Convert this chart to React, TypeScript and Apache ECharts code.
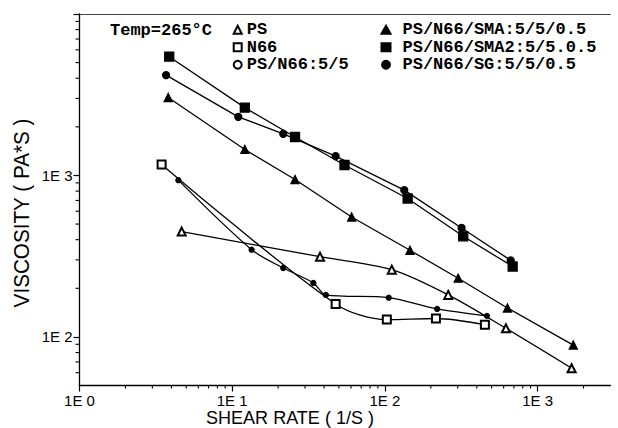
import { useEffect, useRef } from 'react';
import * as echarts from 'echarts';

// ---- data (shear rate 1/s, viscosity Pa*s) ----
const psShear = [4.67, 37.6, 111, 260, 621, 1671];
const psVisc = [449, 314, 261, 182, 113, 64];

const n66Shear = [3.45, 47.6, 103, 216, 452];
const n66Visc = [1170, 160, 128, 130, 119];

const blendShear = [4.44, 13.4, 21.6, 34.0, 41.1, 106, 220, 466];
const blendVisc = [935, 347, 267, 216, 182, 175, 149, 135];

const smaShear = [3.81, 12.1, 25.8, 60.6, 146, 302, 635, 1714];
const smaVisc = [3040, 1449, 944, 553, 344, 231, 151, 89];

const sma2Shear = [3.87, 12.1, 25.8, 54.4, 141, 326, 687];
const sma2Visc = [5440, 2630, 1730, 1161, 720, 420, 273];

const sgShear = [3.69, 10.96, 21.6, 47.6, 134, 318, 667];
const sgVisc = [4180, 2307, 1811, 1318, 811, 473, 298];

const seriesNames = [
  'PS',
  'N66',
  'PS/N66:5/5',
  'PS/N66/SMA:5/5/0.5',
  'PS/N66/SMA2:5/5.0.5',
  'PS/N66/SG:5/5/0.5',
];

const X_MIN = 1;
const X_MAX = 3000;
const Y_MIN = 50;
const Y_MAX = 10000;

const xMinorTicks = [2, 3, 4, 5, 6, 7, 8, 9, 20, 30, 40, 50, 60, 70, 80, 90, 200, 300, 400, 500, 600, 700, 800, 900, 2000];
const yMinorTicks = [60, 70, 80, 90, 200, 300, 400, 500, 600, 700, 800, 900, 2000, 3000, 4000, 5000, 6000, 7000, 8000, 9000];

const zip = (xs: number[], ys: number[]) => xs.map((x, i) => [x, ys[i]]);

const SANS = "'Liberation Sans', 'DejaVu Sans', sans-serif";
const MONO = "'Liberation Mono', 'DejaVu Sans Mono', monospace";

const powerExp = (v: number): number | null => {
  const l = Math.log10(v);
  const r = Math.round(l);
  return Math.abs(l - r) < 1e-6 ? r : null;
};

export default function App() {
  const ref = useRef<HTMLDivElement>(null);

  useEffect(() => {
    document.body.style.margin = '0';
    const chart = echarts.init(ref.current!, null, { renderer: 'svg' });

    const lineBase = (name: string, data: number[][], symbol: string, size: number, smooth: number | boolean) => ({
      name,
      type: 'line',
      data,
      symbol,
      symbolSize: size,
      showSymbol: true,
      smooth,
      lineStyle: { color: '#000', width: 1.3 },
      itemStyle: { color: '#000', borderColor: '#000', borderWidth: 1.3 },
      emphasis: { disabled: true },
      z: 3,
    });

    const legendText = { fontFamily: MONO, fontWeight: 'bold', fontSize: 17, color: '#000', lineHeight: 17.5 };

    const option: any = {
      animation: false,
      backgroundColor: '#fff',
      grid: { left: 79.5, right: 7.6, top: 14, bottom: 42.5, containLabel: false },
      xAxis: [
        {
          type: 'log',
          min: X_MIN,
          max: X_MAX,
          logBase: 10,
          axisLine: { show: true, lineStyle: { color: '#000', width: 1.3 } },
          axisTick: { show: true, inside: false, length: 6, lineStyle: { color: '#000', width: 1.2 } },
          minorTick: { show: false },
          splitLine: { show: false },
          axisLabel: {
            margin: 7,
            color: '#000',
            fontFamily: SANS,
            fontSize: 15,
            showMaxLabel: false,
            formatter: (v: number) => {
              const e = powerExp(v);
              return e === null ? '' : '1E ' + e;
            },
          },
        },
        {
          type: 'log',
          position: 'top',
          min: X_MIN,
          max: X_MAX,
          axisLine: { show: true, lineStyle: { color: '#444', width: 1 } },
          axisTick: { show: false },
          axisLabel: { show: false },
          splitLine: { show: false },
        },
      ],
      yAxis: {
        type: 'log',
        min: Y_MIN,
        max: Y_MAX,
        logBase: 10,
        axisLine: { show: true, lineStyle: { color: '#000', width: 1.3 } },
        axisTick: { show: true, inside: false, length: 6, lineStyle: { color: '#000', width: 1.2 } },
        splitLine: { show: false },
        axisLabel: {
          margin: 7,
          color: '#000',
          fontFamily: SANS,
          fontSize: 15,
          showMinLabel: false,
          formatter: (v: number) => {
            const e = powerExp(v);
            return e === null || e >= 4 ? '' : '1E ' + e;
          },
        },
      },
      legend: [
        {
          orient: 'vertical',
          left: 227.7,
          top: 16,
          itemWidth: 8,
          itemHeight: 8,
          itemGap: 0,
          selectedMode: false,
          textStyle: legendText,
          data: [
            { name: seriesNames[0], icon: 'emptyTriangle' },
            { name: seriesNames[1], icon: 'emptyRect' },
            { name: seriesNames[2], icon: 'emptyCircle' },
          ],
        },
        {
          orient: 'vertical',
          left: 375.5,
          top: 16,
          itemWidth: 9,
          itemHeight: 8,
          itemGap: 0,
          selectedMode: false,
          textStyle: { ...legendText, padding: [0, 0, 0, 7] },
          data: [
            { name: seriesNames[3], icon: 'triangle' },
            { name: seriesNames[4], icon: 'rect' },
            { name: seriesNames[5], icon: 'circle' },
          ],
        },
      ],
      graphic: [
        {
          type: 'text',
          x: 110,
          y: 30,
          style: { text: 'Temp=265°C', fontFamily: MONO, fontWeight: 'bold', fontSize: 17, fill: '#000', align: 'left', verticalAlign: 'middle' },
        },
        {
          type: 'text',
          x: 290,
          y: 417.5,
          scaleX: 0.95,
          style: { text: 'SHEAR RATE ( 1/S )', fontFamily: SANS, fontSize: 19, fill: '#000', align: 'center', verticalAlign: 'middle' },
        },
        {
          type: 'text',
          x: 22,
          y: 213,
          rotation: Math.PI / 2,
          scaleX: 0.94,
          style: { text: 'VISCOSITY ( PA*S )', fontFamily: SANS, fontSize: 22, fill: '#000', align: 'center', verticalAlign: 'middle' },
        },
      ],
      series: [
        lineBase(seriesNames[0], zip(psShear, psVisc), 'emptyTriangle', 8, 0.3),
        lineBase(seriesNames[1], zip(n66Shear, n66Visc), 'emptyRect', 8, 0.3),
        lineBase(seriesNames[2], zip(blendShear, blendVisc), 'circle', 5, 0.3),
        lineBase(seriesNames[3], zip(smaShear, smaVisc), 'triangle', 8, false),
        lineBase(seriesNames[4], zip(sma2Shear, sma2Visc), 'rect', 9, false),
        lineBase(seriesNames[5], zip(sgShear, sgVisc), 'circle', 7, false),
        {
          type: 'custom',
          name: 'xMinor',
          silent: true,
          clip: false,
          data: xMinorTicks.map((v) => [v, Y_MIN]),
          renderItem: (_p: any, api: any) => {
            const pt = api.coord([api.value(0), Y_MIN]);
            return { type: 'line', shape: { x1: pt[0], y1: pt[1], x2: pt[0], y2: pt[1] + 3 }, style: { stroke: '#000', lineWidth: 1.1 } };
          },
          z: 2,
        },
        {
          type: 'custom',
          name: 'yMinor',
          silent: true,
          clip: false,
          data: yMinorTicks.map((v) => [X_MIN, v]),
          renderItem: (_p: any, api: any) => {
            const pt = api.coord([X_MIN, api.value(1)]);
            return { type: 'line', shape: { x1: pt[0], y1: pt[1], x2: pt[0] - 4, y2: pt[1] }, style: { stroke: '#000', lineWidth: 1.1 } };
          },
          z: 2,
        },
      ],
    };

    chart.setOption(option);
    return () => chart.dispose();
  }, []);

  return <div ref={ref} style={{ width: 618, height: 428, background: '#fff' }} />;
}
